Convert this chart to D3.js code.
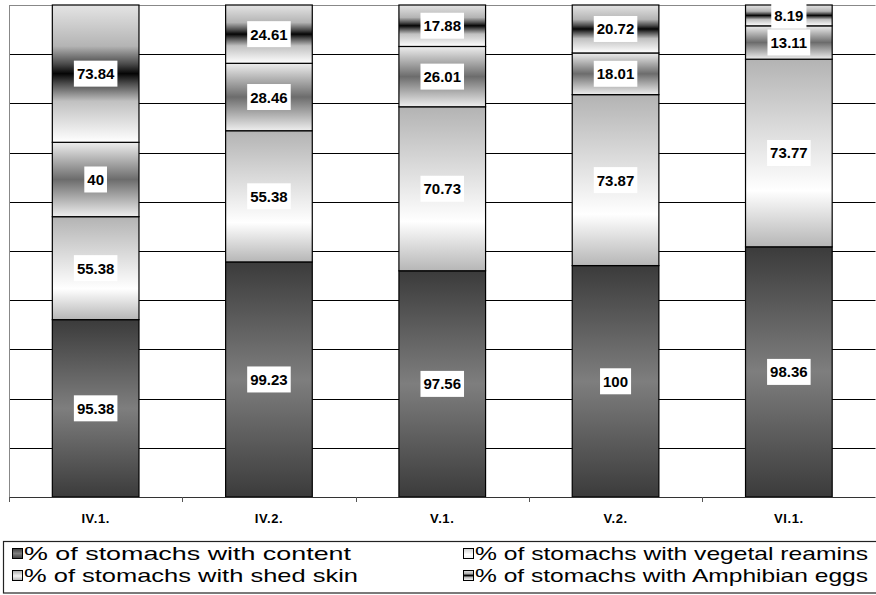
<!DOCTYPE html>
<html>
<head>
<meta charset="utf-8">
<script src="https://cdn.jsdelivr.net/npm/d3@7"></script>
<style>
  html, body { margin: 0; padding: 0; background: #fff; }
  svg { display: block; font-family: "Liberation Sans", Arial, sans-serif; }
</style>
</head>
<body>
<svg id="chart" width="876" height="595"></svg>
<script>
// ---- data ----
const categories = ["IV.1.", "IV.2.", "V.1.", "V.2.", "VI.1."];
const contentValues = [95.38, 99.23, 97.56, 100, 98.36];
const vegetalValues = [55.38, 55.38, 70.73, 73.87, 73.77];
const shedSkinValues = [40, 28.46, 26.01, 18.01, 13.11];
const eggValues = [73.84, 24.61, 17.88, 20.72, 8.19];
const seriesKeys = ["content", "vegetal", "shed", "eggs"];
const seriesLabels = [
  "% of stomachs with content",
  "% of stomachs with vegetal reamins",
  "% of stomachs with shed skin",
  "% of stomachs with Amphibian eggs"
];

const rows = categories.map((c, i) => ({
  cat: c,
  content: contentValues[i],
  vegetal: vegetalValues[i],
  shed: shedSkinValues[i],
  eggs: eggValues[i]
}));

// ---- layout ----
const svg = d3.select("#chart");
const plot = { left: 9, right: 875.5, top: 5, bottom: 497 };

const x = d3.scaleBand()
  .domain(categories)
  .range([plot.left, plot.right])
  .paddingInner(0.5)
  .paddingOuter(0.25);

const y = d3.scaleLinear().domain([0, 1]).range([plot.bottom, plot.top]);

const stack = d3.stack().keys(seriesKeys).offset(d3.stackOffsetExpand);
const stacked = stack(rows);

// ---- gradients ----
const defs = svg.append("defs");
const gradStops = {
  content: [[0, "#3b3b3b"], [0.5, "#7e7e7e"], [1, "#3b3b3b"]],
  vegetal: [[0, "#b3b3b3"], [0.7, "#ffffff"], [1, "#b6b6b6"]],
  shed: [[0, "#eeeeee"], [0.5, "#6c6c6c"], [1, "#eeeeee"]],
  eggs: [[0, "#e4e4e4"], [0.3, "#b4b4b4"], [0.43, "#4a4a4a"], [0.5, "#050505"], [0.57, "#4a4a4a"], [0.7, "#c0c0c0"], [1, "#ffffff"]]
};
const legendStops = {
  content: gradStops.content,
  vegetal: [[0, "#cfcfcf"], [0.6, "#ffffff"], [1, "#f0f0f0"]],
  shed: [[0, "#a8a8a8"], [0.55, "#f4f4f4"], [1, "#b0b0b0"]],
  eggs: gradStops.eggs
};
function makeGrad(id, stops) {
  const g = defs.append("linearGradient")
    .attr("id", id).attr("x1", 0).attr("y1", 0).attr("x2", 0).attr("y2", 1);
  stops.forEach(s => g.append("stop").attr("offset", s[0]).attr("stop-color", s[1]));
}
seriesKeys.forEach(k => {
  makeGrad("g-" + k, gradStops[k]);
  makeGrad("lg-" + k, legendStops[k]);
});

// ---- gridlines ----
const gridTicks = d3.range(1, 10).map(d => d / 10);
svg.append("g").selectAll("line").data(gridTicks).join("line")
  .attr("x1", plot.left).attr("x2", plot.right)
  .attr("y1", d => Math.round(y(d)) + 0.5).attr("y2", d => Math.round(y(d)) + 0.5)
  .attr("stroke", "#000").attr("stroke-width", 1);

// top border and left axis (grey)
svg.append("line")
  .attr("x1", plot.left).attr("x2", plot.right)
  .attr("y1", plot.top + 0.5).attr("y2", plot.top + 0.5)
  .attr("stroke", "#888").attr("stroke-width", 1);
svg.append("line")
  .attr("x1", plot.left + 0.5).attr("x2", plot.left + 0.5)
  .attr("y1", plot.top).attr("y2", plot.bottom)
  .attr("stroke", "#888").attr("stroke-width", 1);

// ---- bars ----
const series = svg.append("g").selectAll("g").data(stacked).join("g");
series.selectAll("rect").data(d => d.map(p => ({ p, key: d.key }))).join("rect")
  .attr("x", d => x(d.p.data.cat))
  .attr("width", x.bandwidth())
  .attr("y", d => y(d.p[1]))
  .attr("height", d => y(d.p[0]) - y(d.p[1]))
  .attr("fill", d => "url(#g-" + d.key + ")")
  .attr("stroke", "#000")
  .attr("stroke-width", 1.2);

// ---- x axis ----
const boundaries = d3.range(0, categories.length + 1).map(i => plot.left + i * x.step());
svg.append("line")
  .attr("x1", plot.left).attr("x2", plot.right)
  .attr("y1", plot.bottom + 0.5).attr("y2", plot.bottom + 0.5)
  .attr("stroke", "#333").attr("stroke-width", 1);
svg.append("g").selectAll("line").data(boundaries).join("line")
  .attr("x1", d => Math.round(d) + 0.5).attr("x2", d => Math.round(d) + 0.5)
  .attr("y1", plot.bottom).attr("y2", plot.bottom + 5)
  .attr("stroke", "#555").attr("stroke-width", 1);
svg.append("g").selectAll("text").data(categories).join("text")
  .attr("x", d => x(d) + x.bandwidth() / 2)
  .attr("y", 523)
  .attr("text-anchor", "middle")
  .attr("font-size", 13)
  .attr("font-weight", "bold")
  .attr("letter-spacing", 0.6)
  .text(d => d);

// ---- data labels ----
const labelG = svg.append("g");
stacked.forEach(s => {
  s.forEach(p => {
    const val = p.data[s.key];
    const cx = x(p.data.cat) + x.bandwidth() / 2;
    const cy = (y(p[0]) + y(p[1])) / 2;
    const g = labelG.append("g");
    const t = g.append("text")
      .attr("x", cx).attr("y", cy + 5.5)
      .attr("text-anchor", "middle")
      .attr("font-size", 15)
      .attr("font-weight", "bold")
      .attr("fill", "#000")
      .text(String(val));
    const w = t.node().getComputedTextLength() + 6;
    g.insert("rect", "text")
      .attr("x", cx - w / 2).attr("y", cy - 13)
      .attr("width", w).attr("height", 26)
      .attr("fill", "#fff");
  });
});

// ---- legend ----
svg.append("rect")
  .attr("x", 3.5).attr("y", 541.5).attr("width", 880).attr("height", 51.5)
  .attr("fill", "#fff").attr("stroke", "#222").attr("stroke-width", 1.2);
const legendPos = [
  { x: 12, y: 560, w: 327 }, { x: 463, y: 560, w: 393 },
  { x: 12, y: 582, w: 334 }, { x: 463, y: 582, w: 393 }
];
seriesKeys.forEach((k, i) => {
  const pos = legendPos[i];
  svg.append("rect")
    .attr("x", pos.x + 0.5).attr("y", pos.y - 11.5)
    .attr("width", 10).attr("height", 10)
    .attr("fill", "url(#lg-" + k + ")")
    .attr("stroke", "#000").attr("stroke-width", 1);
  svg.append("text")
    .attr("x", pos.x + 12).attr("y", pos.y)
    .attr("font-size", 19)
    .attr("textLength", pos.w)
    .attr("lengthAdjust", "spacingAndGlyphs")
    .attr("fill", "#000")
    .text(seriesLabels[i]);
});
</script>
</body>
</html>
